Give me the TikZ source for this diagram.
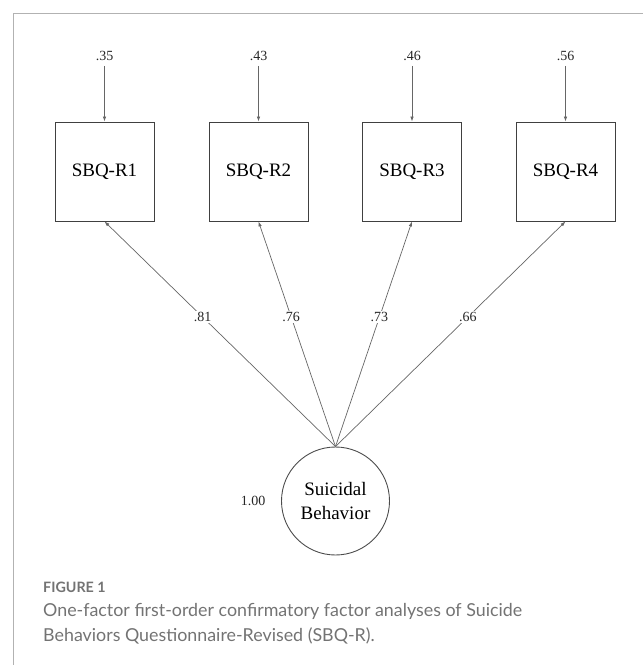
\documentclass[tikz,border=0pt]{standalone}
\usepackage{fontspec}
\setmainfont{Liberation Serif}
\newfontfamily\capfont{Lato}
\usetikzlibrary{arrows.meta}

\begin{document}
\begin{tikzpicture}[x=1pt,y=-1pt,>={Latex[length=5pt,width=3.5pt]},
  obs/.style={draw=black!75,line width=0.9pt,minimum size=99pt,inner sep=0pt,font=\fontsize{19}{23}\selectfont},
  num/.style={font=\fontsize{14}{16}\selectfont,text=black!85},
  load/.style={->,draw=black!60,line width=0.7pt},
  captext/.style={anchor=base west,inner sep=0pt,text=black!55}]
  \useasboundingbox (0,0) rectangle (643,665);
  \draw[black!30,line width=1pt] (13,665) -- (13,13) -- (643,13);
  \node[circle,draw=black!70,line width=0.9pt,minimum size=108pt,inner sep=0pt,align=center,font=\fontsize{19}{24}\selectfont] (sb) at (335.5,501) {Suicidal\\Behavior};
  \node[num] (var) at (253,501) {1.00};
  \foreach \i/\x/\e/\l in {1/104.5/.35/.81,2/258.5/.43/.76,3/412/.46/.73,4/565.5/.56/.66}{
    \node[obs] (r\i) at (\x,171.5) {SBQ-R\i};
    \node[num,inner sep=5pt] (e\i) at (\x,56) {\e};
    \draw[load] (e\i) -- (r\i);
    \draw[load] (sb.north) -- (r\i.south) node[num,pos=0.575,fill=white,inner sep=1pt] (l\i) {\l};
  }
  % caption
  \node[captext,font=\capfont\bfseries\fontsize{14.3}{16}\selectfont] (fig) at (43,592) {FIGURE 1};
  \node[captext,font=\capfont\fontsize{17.85}{20}\selectfont] (cap1) at (43,616.7) {One-factor first-order confirmatory factor analyses of Suicide};
  \node[captext,font=\capfont\fontsize{17.85}{20}\selectfont] (cap2) at (43,641.7) {Behaviors Questionnaire-Revised (SBQ-R).};
\end{tikzpicture}
\end{document}
